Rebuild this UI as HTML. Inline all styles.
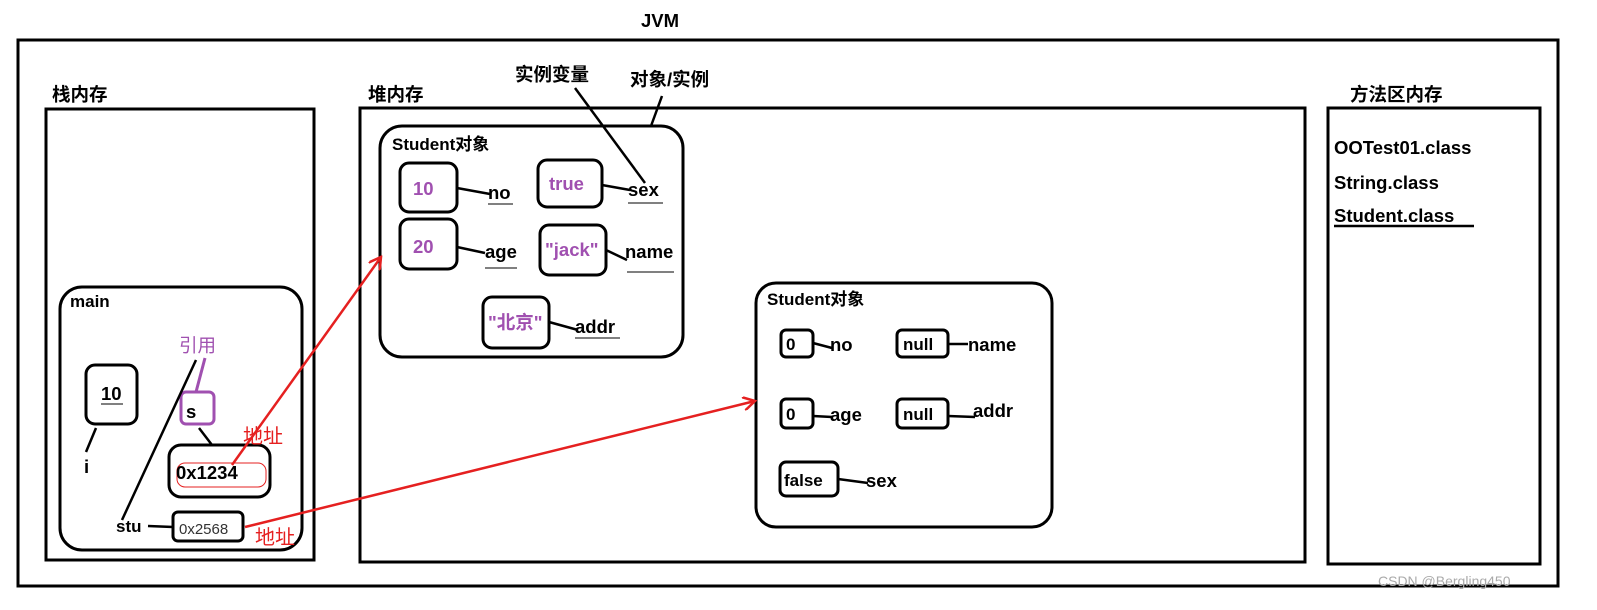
<!DOCTYPE html>
<html><head><meta charset="utf-8"><style>
html,body{margin:0;padding:0;background:#fff;}
svg{display:block;}
text{font-family:"Liberation Sans","Noto Sans CJK SC",sans-serif;font-weight:bold;}
</style></head><body>
<svg width="1597" height="610" viewBox="0 0 1597 610" xmlns="http://www.w3.org/2000/svg">
<defs>
<marker id="ar" markerWidth="14" markerHeight="14" refX="12" refY="7" orient="auto" markerUnits="userSpaceOnUse">
<path d="M0,0 L12,7 L0,14" fill="none" stroke="#e52020" stroke-width="2.5"/>
</marker>
</defs>
<g fill="none" stroke="#000" stroke-width="3">
<rect x="18" y="40" width="1540" height="546"/>
<rect x="46" y="109" width="268" height="451"/>
<rect x="360" y="108" width="945" height="454"/>
<rect x="1328" y="108" width="212" height="456"/>
<rect x="60" y="287" width="242" height="263" rx="22"/>
<rect x="380" y="126" width="303" height="231" rx="22"/>
<rect x="756" y="283" width="296" height="244" rx="20"/>
<rect x="400" y="163" width="57" height="49" rx="9"/>
<rect x="538" y="160" width="64" height="47" rx="9"/>
<rect x="400" y="219" width="57" height="50" rx="9"/>
<rect x="540" y="225" width="66" height="50" rx="9"/>
<rect x="483" y="297" width="66" height="51" rx="9"/>
<rect x="781" y="330" width="32" height="27" rx="5"/>
<rect x="897" y="330" width="51" height="27" rx="5"/>
<rect x="781" y="399" width="32" height="29" rx="5"/>
<rect x="897" y="399" width="51" height="29" rx="5"/>
<rect x="780" y="462" width="58" height="34" rx="6"/>
<rect x="86" y="365" width="51" height="59" rx="9"/>
<rect x="169" y="445" width="101" height="52" rx="12"/>
<rect x="173" y="512" width="70" height="29" rx="5"/>
</g>
<rect x="181" y="392" width="33" height="32" rx="5" fill="none" stroke="#a050b0" stroke-width="3"/>
<rect x="177" y="463" width="89" height="24" rx="8" fill="none" stroke="#e52020" stroke-width="1"/>
<g stroke="#000" stroke-width="2.5" fill="none">
<line x1="457" y1="188" x2="490" y2="194"/>
<line x1="602" y1="185" x2="630" y2="190"/>
<line x1="457" y1="247" x2="485" y2="253"/>
<line x1="606" y1="250" x2="627" y2="260"/>
<line x1="549" y1="322" x2="578" y2="330"/>
<line x1="813" y1="343" x2="832" y2="348"/>
<line x1="948" y1="344" x2="968" y2="344"/>
<line x1="813" y1="416" x2="832" y2="417"/>
<line x1="948" y1="416" x2="975" y2="417"/>
<line x1="838" y1="479" x2="868" y2="483"/>
<line x1="575" y1="88" x2="645" y2="183"/>
<line x1="662" y1="96" x2="651" y2="126"/>
<line x1="196" y1="360" x2="122" y2="520"/>
<line x1="96" y1="428" x2="86" y2="452"/>
<line x1="199" y1="428" x2="212" y2="445"/>
<line x1="148" y1="526" x2="173" y2="527"/>
<line x1="488" y1="204" x2="513" y2="204" stroke-width="1"/>
<line x1="628" y1="203" x2="663" y2="203" stroke-width="1"/>
<line x1="485" y1="268" x2="517" y2="268" stroke-width="1"/>
<line x1="627" y1="272" x2="674" y2="272" stroke-width="1"/>
<line x1="575" y1="338" x2="620" y2="338" stroke-width="1"/>
<line x1="101" y1="404" x2="123" y2="404" stroke-width="1"/>
<line x1="1334" y1="226" x2="1474" y2="226"/>
</g>
<line x1="205" y1="358" x2="196" y2="392" stroke="#a050b0" stroke-width="3"/>
<g stroke="#e52020" stroke-width="2.5" fill="none">
<line x1="232" y1="465" x2="381" y2="257" marker-end="url(#ar)"/>
<line x1="245" y1="527" x2="755" y2="401" marker-end="url(#ar)"/>
</g>
<g font-size="18.5" fill="#000">
<text x="641" y="27">JVM</text>
<text x="52" y="101">栈内存</text>
<text x="368" y="101">堆内存</text>
<text x="1350" y="101">方法区内存</text>
<text x="515" y="81">实例变量</text>
<text x="630" y="86">对象/实例</text>
<text x="1334" y="154">OOTest01.class</text>
<text x="1334" y="189">String.class</text>
<text x="1334" y="222">Student.class</text>
<text x="392" y="150" font-size="17">Student对象</text>
<text x="767" y="305" font-size="17">Student对象</text>
<text x="70" y="307" font-size="17">main</text>
<text x="488" y="199">no</text>
<text x="628" y="196">sex</text>
<text x="485" y="258">age</text>
<text x="625" y="258">name</text>
<text x="575" y="333">addr</text>
<text x="786" y="350" font-size="17">0</text>
<text x="903" y="350" font-size="17">null</text>
<text x="786" y="420" font-size="17">0</text>
<text x="903" y="420" font-size="17">null</text>
<text x="784" y="486" font-size="17">false</text>
<text x="830" y="351">no</text>
<text x="968" y="351">name</text>
<text x="830" y="421">age</text>
<text x="973" y="417">addr</text>
<text x="866" y="487">sex</text>
<text x="101" y="400">10</text>
<text x="84" y="473">i</text>
<text x="186" y="418">s</text>
<text x="176" y="479">0x1234</text>
<text x="116" y="532" font-size="17">stu</text>
</g>
<text x="179" y="534" font-size="15" fill="#333" style="font-weight:normal">0x2568</text>
<g font-size="18.5" fill="#a050b0">
<text x="413" y="195">10</text>
<text x="549" y="190">true</text>
<text x="413" y="253">20</text>
<text x="545" y="256">"jack"</text>
<text x="488" y="329">"北京"</text>
<text x="179" y="352" style="font-weight:normal">引用</text>
</g>
<g font-size="20" fill="#e52020">
<text x="243" y="443" style="font-weight:normal">地址</text>
<text x="255" y="544" style="font-weight:normal">地址</text>
</g>
<text x="1378" y="586" font-size="14" fill="#aaa" style="font-weight:normal">CSDN @Bergling450</text>
</svg>
</body></html>
